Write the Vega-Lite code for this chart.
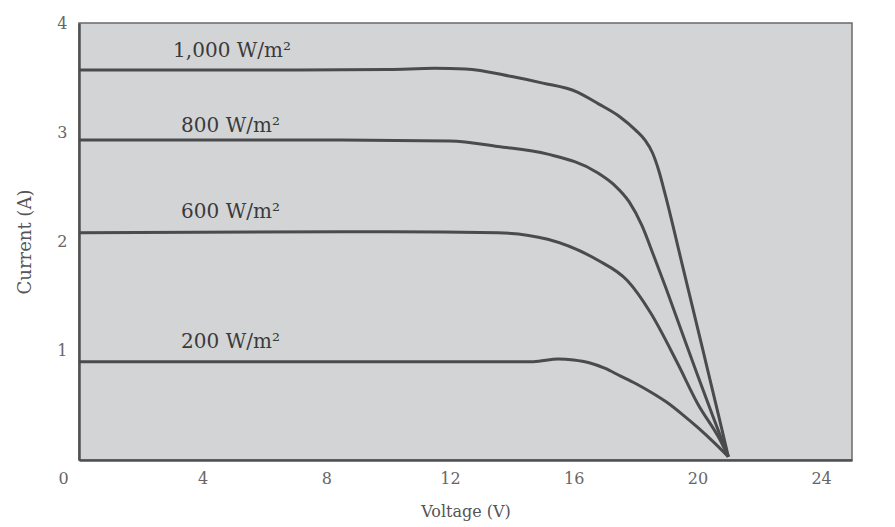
{
  "$schema": "https://vega.github.io/schema/vega-lite/v6.json",
  "autosize": {"type": "none"},
  "padding": {"left": 79, "top": 23, "right": 43, "bottom": 67},
  "width": 773,
  "height": 437,
  "background": "#ffffff",
  "config": {
    "view": {"fill": "#d3d4d6", "stroke": "#6a6a6a", "strokeWidth": 1.5},
    "font": "DejaVu Serif"
  },
  "datasets": {
    "curves": [
      {"v": 0, "i": 3.57, "irr": "1000"},
      {"v": 6, "i": 3.57, "irr": "1000"},
      {"v": 10, "i": 3.575, "irr": "1000"},
      {"v": 11.5, "i": 3.585, "irr": "1000"},
      {"v": 12.5, "i": 3.58, "irr": "1000"},
      {"v": 14, "i": 3.51, "irr": "1000"},
      {"v": 15, "i": 3.45, "irr": "1000"},
      {"v": 16.1, "i": 3.37, "irr": "1000"},
      {"v": 16.8, "i": 3.26, "irr": "1000"},
      {"v": 17.5, "i": 3.14, "irr": "1000"},
      {"v": 18.0, "i": 3.02, "irr": "1000"},
      {"v": 18.3, "i": 2.93, "irr": "1000"},
      {"v": 18.55, "i": 2.81, "irr": "1000"},
      {"v": 18.75, "i": 2.65, "irr": "1000"},
      {"v": 18.95, "i": 2.44, "irr": "1000"},
      {"v": 19.5, "i": 1.8, "irr": "1000"},
      {"v": 20.2, "i": 0.98, "irr": "1000"},
      {"v": 20.7, "i": 0.39, "irr": "1000"},
      {"v": 21.0, "i": 0.03, "irr": "1000"},
      {"v": 0, "i": 2.93, "irr": "800"},
      {"v": 8, "i": 2.93, "irr": "800"},
      {"v": 12, "i": 2.92, "irr": "800"},
      {"v": 13.55, "i": 2.87, "irr": "800"},
      {"v": 15.16, "i": 2.8, "irr": "800"},
      {"v": 16.77, "i": 2.63, "irr": "800"},
      {"v": 17.3, "i": 2.52, "irr": "800"},
      {"v": 17.8, "i": 2.36, "irr": "800"},
      {"v": 18.2, "i": 2.15, "irr": "800"},
      {"v": 18.6, "i": 1.86, "irr": "800"},
      {"v": 19.0, "i": 1.56, "irr": "800"},
      {"v": 19.5, "i": 1.17, "irr": "800"},
      {"v": 20.0, "i": 0.78, "irr": "800"},
      {"v": 20.5, "i": 0.4, "irr": "800"},
      {"v": 21.0, "i": 0.03, "irr": "800"},
      {"v": 0, "i": 2.08, "irr": "600"},
      {"v": 10, "i": 2.09, "irr": "600"},
      {"v": 13.55, "i": 2.08, "irr": "600"},
      {"v": 15.16, "i": 2.02, "irr": "600"},
      {"v": 16.77, "i": 1.83, "irr": "600"},
      {"v": 17.74, "i": 1.64, "irr": "600"},
      {"v": 18.48, "i": 1.35, "irr": "600"},
      {"v": 19.35, "i": 0.89, "irr": "600"},
      {"v": 20.0, "i": 0.52, "irr": "600"},
      {"v": 20.74, "i": 0.18, "irr": "600"},
      {"v": 21.0, "i": 0.03, "irr": "600"},
      {"v": 0, "i": 0.9, "irr": "200"},
      {"v": 14.7, "i": 0.9, "irr": "200"},
      {"v": 15.5, "i": 0.925, "irr": "200"},
      {"v": 16.0, "i": 0.915, "irr": "200"},
      {"v": 16.5, "i": 0.89, "irr": "200"},
      {"v": 17.0, "i": 0.84, "irr": "200"},
      {"v": 17.5, "i": 0.77, "irr": "200"},
      {"v": 18.0, "i": 0.7, "irr": "200"},
      {"v": 18.5, "i": 0.62, "irr": "200"},
      {"v": 19.0, "i": 0.53, "irr": "200"},
      {"v": 19.5, "i": 0.42, "irr": "200"},
      {"v": 20.0, "i": 0.3, "irr": "200"},
      {"v": 20.5, "i": 0.17, "irr": "200"},
      {"v": 21.0, "i": 0.03, "irr": "200"}
    ],
    "labels": [
      {"v": 4.95, "i": 3.74, "label": "1,000 W/m²"},
      {"v": 4.9, "i": 3.06, "label": "800 W/m²"},
      {"v": 4.9, "i": 2.27, "label": "600 W/m²"},
      {"v": 4.9, "i": 1.08, "label": "200 W/m²"}
    ]
  },
  "layer": [
    {
      "data": {"name": "curves"},
      "mark": {"type": "line", "interpolate": "monotone", "color": "#4a4b4d", "strokeWidth": 3},
      "encoding": {
        "x": {
          "field": "v", "type": "quantitative",
          "scale": {"domain": [0, 25], "nice": false, "zero": false},
          "axis": {
            "values": [0, 4, 8, 12, 16, 20, 24],
            "format": "d",
            "title": "Voltage (V)",
            "grid": false,
            "ticks": false,
            "domainColor": "#505050",
            "domainWidth": 2.5,
            "labelFont": "DejaVu Serif",
            "labelFontSize": 16,
            "labelColor": "#666666",
            "labelPadding": 10,
            "labelOffset": {"expr": "datum.value == 0 ? -21 : 0"},
            "titleFont": "DejaVu Serif",
            "titleFontSize": 16,
            "titleFontWeight": "normal",
            "titleColor": "#555555",
            "titlePadding": 17
          }
        },
        "y": {
          "field": "i", "type": "quantitative",
          "scale": {"domain": [0, 4], "nice": false},
          "axis": {
            "values": [1, 2, 3, 4],
            "format": "d",
            "title": "Current (A)",
            "grid": false,
            "ticks": false,
            "domainColor": "#505050",
            "domainWidth": 2.5,
            "labelFont": "DejaVu Serif",
            "labelFontSize": 16,
            "labelColor": "#666666",
            "labelPadding": 12,
            "titleFont": "DejaVu Serif",
            "titleFontSize": 18,
            "titleFontWeight": "normal",
            "titleColor": "#555555",
            "titlePadding": 22
          }
        },
        "detail": {"field": "irr", "type": "nominal"}
      }
    },
    {
      "data": {"name": "labels"},
      "mark": {"type": "text", "font": "DejaVu Serif", "fontSize": 20, "color": "#3a3a3a", "align": "center", "baseline": "middle"},
      "encoding": {
        "x": {"field": "v", "type": "quantitative"},
        "y": {"field": "i", "type": "quantitative"},
        "text": {"field": "label"}
      }
    }
  ]
}
